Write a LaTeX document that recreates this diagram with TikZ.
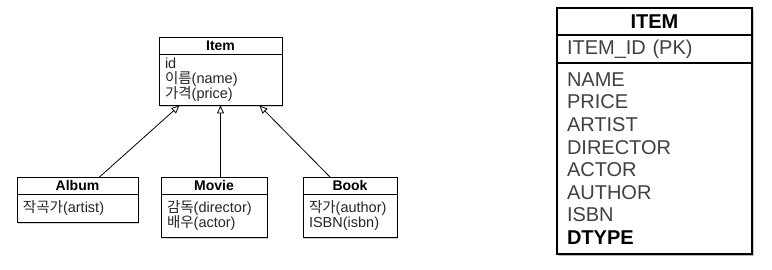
\documentclass[tikz,border=0pt]{standalone}
\usepackage{fontspec}
\setmainfont{Liberation Sans}
\newfontfamily\kr{Noto Sans CJK KR}
\usetikzlibrary{arrows.meta,positioning,shadows}

\begin{document}
\begin{tikzpicture}[x=1pt,y=-1pt,
  box/.style={draw, line width=0.9pt, fill=white, outer sep=0pt, inner sep=0pt,
    drop shadow={shadow xshift=1pt, shadow yshift=-1.5pt, opacity=0.35}},
  classhead/.style={box, minimum height=17.5pt, font=\fontsize{14}{15}\selectfont\bfseries},
  classbody/.style={box, align=left, inner xsep=6pt, font=\fontsize{14.5}{15}\selectfont, text=black!85},
  extends/.style={-{Triangle[open,length=8pt,width=7pt]}, line width=0.8pt},
  tablebox/.style={box, line width=1.3pt, minimum width=195pt,
    drop shadow={shadow xshift=1.5pt, shadow yshift=-2pt, opacity=0.4}},
  tablerows/.style={tablebox, align=left, inner xsep=10pt, text width=175pt,
    font=\fontsize{20}{22.6}\selectfont, text=black!75}]
  \useasboundingbox (0,0) rectangle (772,270);

  % object model
  \node[classhead, minimum width=123pt, anchor=north west] (itemhead) at (159,37) {Item};
  \node[classbody, text width=111pt, minimum height=51pt, below=0pt of itemhead] (itembody)
    {id\\{\kr 이름}(name)\\{\kr 가격}(price)};

  \node[classhead, minimum width=121pt, anchor=north west] (albumhead) at (17,177) {Album};
  \node[classbody, text width=109pt, minimum height=28pt, below=0pt of albumhead] (albumbody)
    {{\kr 작곡가}(artist)};

  \node[classhead, minimum width=106pt, anchor=north west] (moviehead) at (161,177) {Movie};
  \node[classbody, text width=94pt, minimum height=43pt, below=0pt of moviehead] (moviebody)
    {{\kr 감독}(director)\\{\kr 배우}(actor)};

  \node[classhead, minimum width=94pt, anchor=north west] (bookhead) at (303,177) {Book};
  \node[classbody, text width=82pt, minimum height=43pt, below=0pt of bookhead] (bookbody)
    {{\kr 작가}(author)\\ISBN(isbn)};

  \draw[extends] ([xshift=22pt]albumhead.north) -- ([xshift=-41pt]itembody.south);
  \draw[extends] (moviehead.north -| itembody.south) -- (itembody.south);
  \draw[extends] ([xshift=-20pt]bookhead.north) -- ([xshift=39pt]itembody.south);

  % single table
  \node[tablebox, minimum height=27pt, anchor=north west,
    font=\fontsize{20}{22.6}\selectfont\bfseries] (itemtable) at (557,8) {ITEM};
  \node[tablerows, minimum height=28pt, below=0pt of itemtable] (pkrow) {ITEM\_ID (PK)};
  \node[tablerows, minimum height=191pt, below=0pt of pkrow] (columns)
    {NAME\\PRICE\\ARTIST\\DIRECTOR\\ACTOR\\AUTHOR\\ISBN\\\textcolor{black}{\bfseries DTYPE}};
\end{tikzpicture}
\end{document}
